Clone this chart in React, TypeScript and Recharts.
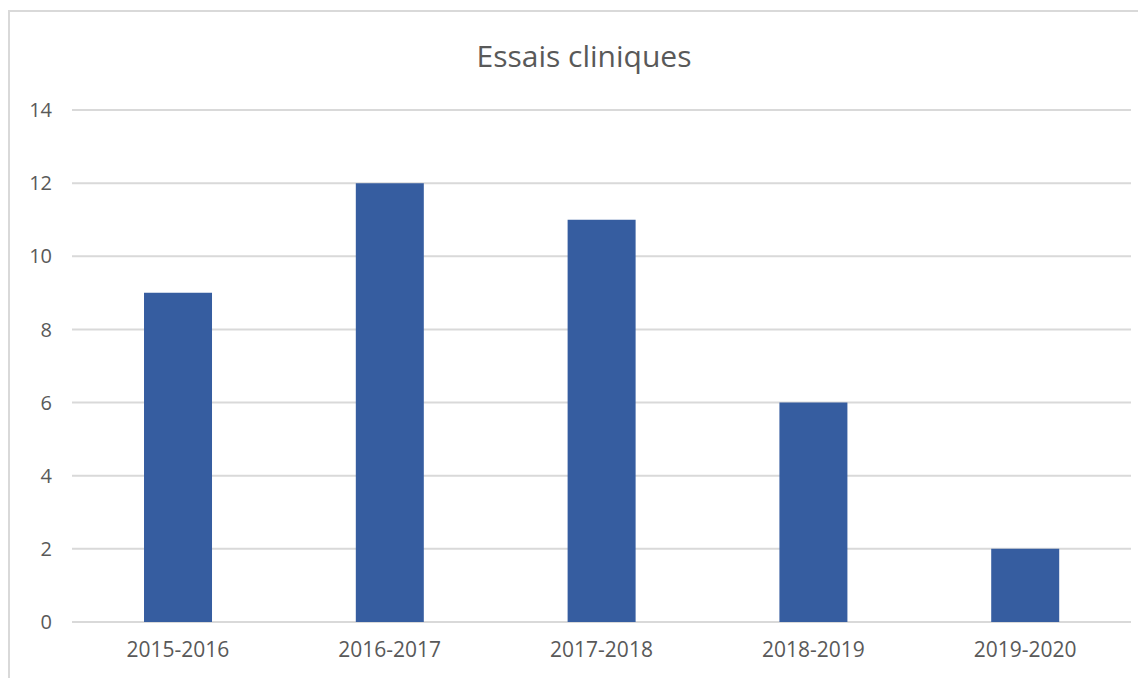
import React from "react";
import { BarChart, Bar, XAxis, YAxis, CartesianGrid } from "recharts";

const periods = ["2015-2016", "2016-2017", "2017-2018", "2018-2019", "2019-2020"];
const trials = [9, 12, 11, 6, 2];
const yTicks = [0, 2, 4, 6, 8, 10, 12, 14];

const data = periods.map((p, i) => ({ name: p, value: trials[i] }));

const FONT = "'Open Sans', 'Noto Sans', sans-serif";

const App: React.FC = () => {
  return (
    <div
      style={{
        position: "relative",
        marginTop: 2,
        width: 1140,
        height: 670,
        borderTop: "2px solid #d9d9d9",
        borderLeft: "2px solid #d9d9d9",
        fontFamily: FONT,
      }}
    >
      {/* chart title */}
      <div
        style={{
          position: "absolute",
          left: 0,
          top: 23,
          width: 1148,
          textAlign: "center",
          fontSize: 30,
          color: "#595959",
        }}
      >
        Essais cliniques
      </div>
      <BarChart
        width={1136}
        height={666}
        data={data}
        margin={{ top: 98, right: 15, left: 0, bottom: 26 }}
        barCategoryGap="34%"
      >
        <CartesianGrid vertical={false} stroke="#d9d9d9" strokeWidth={2} />
        <XAxis
          dataKey="name"
          axisLine={false}
          tickLine={false}
          height={30}
          tickMargin={14}
          tick={{ fill: "#595959", fontSize: 21, fontFamily: FONT }}
        />
        <YAxis
          width={62}
          domain={[0, 14]}
          ticks={yTicks}
          axisLine={false}
          tickLine={false}
          tickSize={0}
          tickMargin={20}
          tick={{ fill: "#595959", fontSize: 20, fontFamily: FONT }}
        />
        <Bar dataKey="value" fill="#365DA0" isAnimationActive={false} />
      </BarChart>
    </div>
  );
};

export default App;
